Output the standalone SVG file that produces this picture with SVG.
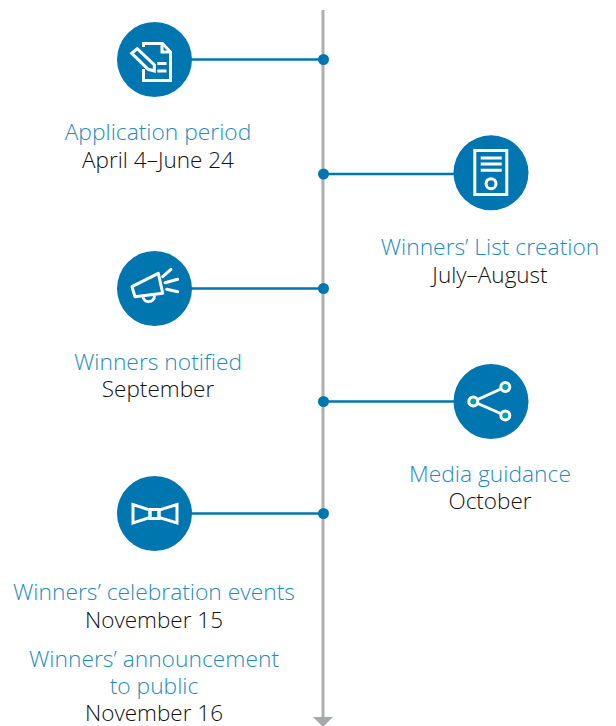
<svg xmlns="http://www.w3.org/2000/svg" width="616" height="726" viewBox="0 0 616 726">
<style>
.c{fill:#0076b0}
.i{fill:none;stroke:#fff;stroke-width:3}
.t{font-family:"Open Sans","Liberation Sans",sans-serif;font-weight:300;text-anchor:middle}
.h{fill:#1f8cc0;font-size:22.8px}
.d{fill:#111;font-size:22.5px}
.l{stroke:#0076b0;stroke-width:2.6;fill:none}
.dot{fill:#0076b0}
.s{fill:#00a0b0;stroke:#fff;stroke-width:3}
</style>
<g id="connectors">
<line x1="323" y1="10" x2="323" y2="719" stroke="#adafb0" stroke-width="3"/>
<polygon points="313,717 333,717 323,727" fill="#a6a8a9"/>
<line class="l" x1="190" y1="59.500" x2="323" y2="59.500"/>
<line class="l" x1="323" y1="174" x2="455" y2="174"/>
<line class="l" x1="190" y1="288.500" x2="323" y2="288.500"/>
<line class="l" x1="323" y1="401.500" x2="455" y2="401.500"/>
<line class="l" x1="190" y1="513.500" x2="323" y2="513.500"/>
<circle class="dot" cx="323.500" cy="59.500" r="5.500"/>
<circle class="dot" cx="323.500" cy="174" r="5.500"/>
<circle class="dot" cx="323.500" cy="288.500" r="5.500"/>
<circle class="dot" cx="323.500" cy="401.500" r="5.500"/>
<circle class="dot" cx="323.500" cy="513.500" r="5.500"/>
</g>
<g id="node-application">
<circle class="c" cx="154.500" cy="59.500" r="37.500"/>
<path class="i" d="M143.500,47V43.500H162.500L170.500,52V80.500H143.500V69"/>
<path class="i" d="M162,44V52H170" stroke-width="2.400"/>
<path class="i" d="M157.300,63.500H166.500M157.300,71H166.500"/>
<path class="i" d="M137.300,48.700L131.700,53.300L148.300,69.300L154.300,71L154.300,65Z"/>
<text class="t h" x="158" y="140.300">Application period</text>
<text class="t d" x="158" y="167.500">April 4–June 24</text>
</g>
<g id="node-list">
<circle class="c" cx="491" cy="172.800" r="37.500"/>
<rect class="i" x="474.800" y="150.500" width="32" height="44"/>
<path class="i" d="M480.700,158H501.700M480.700,164H501.700M480.700,170.200H501.700"/>
<circle class="i" cx="491" cy="183.700" r="5"/>
<text class="t h" x="490" y="255.300">Winners’ List creation</text>
<text class="t d" x="490" y="282.500">July–August</text>
</g>
<g id="node-notified">
<circle class="c" cx="154.500" cy="288.500" r="37.500"/>
<path class="i" stroke-linejoin="round" d="M132,286.700L158.300,273.300L162.700,293.300L135,296.700Z"/>
<path class="i" d="M143,296.500C143.500,303.500 154.500,303.500 154.500,295.500" stroke-width="2.400"/>
<path class="i" stroke-linecap="round" d="M162.700,276.700L171,269.300M165,282.700L177.700,279.300M166.700,289.300L177.700,291.700"/>
<text class="t h" x="158" y="369.500">Winners notified</text>
<text class="t d" x="158" y="396.500">September</text>
</g>
<g id="node-media">
<circle class="c" cx="491" cy="401.500" r="37.500"/>
<path class="i" d="M505.300,387L473.300,401.500L505.300,415.500"/>
<circle class="s" cx="505.300" cy="387" r="4.500"/>
<circle class="s" cx="473.300" cy="401.500" r="4.500"/>
<circle class="s" cx="505.300" cy="415.500" r="4.500"/>
<text class="t h" x="490" y="482.300">Media guidance</text>
<text class="t d" x="490" y="509">October</text>
</g>
<g id="node-events">
<circle class="c" cx="154.500" cy="513.500" r="37.500"/>
<path class="i" d="M133,504.500V523L150,517.500V510ZM177,504.500V523L159,517.500V510Z"/>
<rect class="i" x="150" y="509.500" width="9" height="9"/>
<text class="t h" x="154" y="600.300">Winners’ celebration events</text>
<text class="t d" x="154" y="627.500">November 15</text>
<text class="t h" x="154" y="667.300">Winners’ announcement</text>
<text class="t h" x="154" y="694.300">to public</text>
<text class="t d" x="154" y="720.500">November 16</text>
</g>
</svg>
